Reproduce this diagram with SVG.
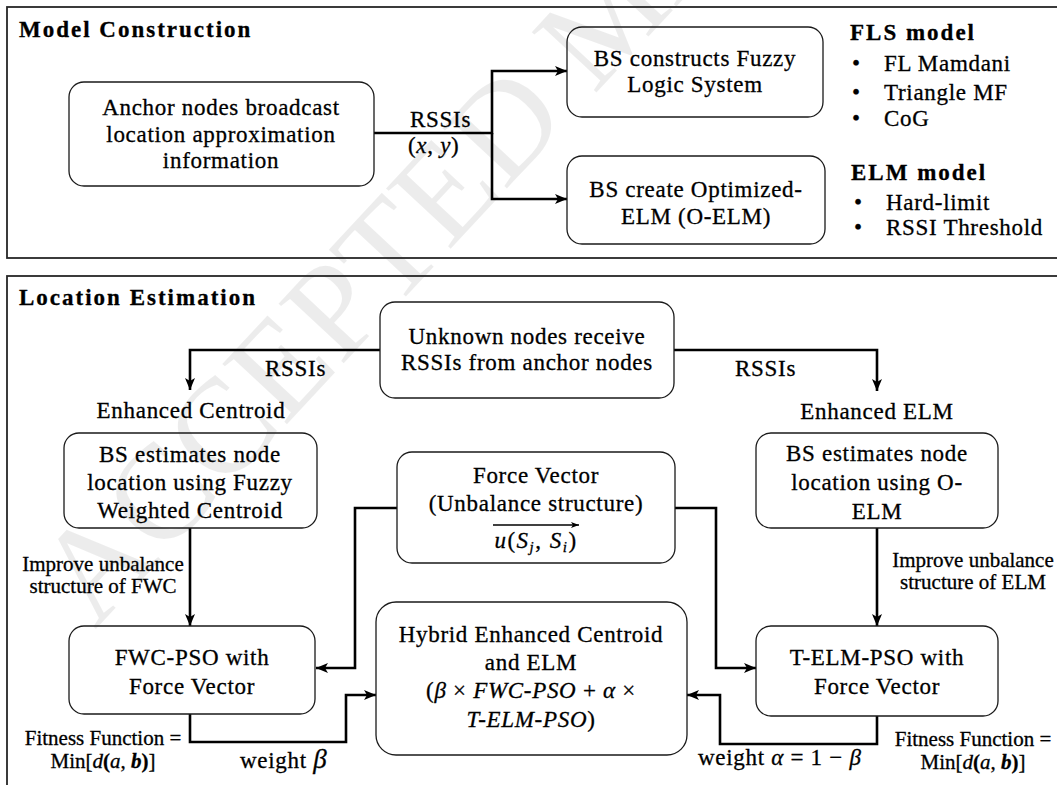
<svg xmlns="http://www.w3.org/2000/svg" width="1057" height="785" viewBox="0 0 1057 785">
<style>
.bg{fill:#fff}
.panel{fill:none;stroke:#262626;stroke-width:1.8}
.box{fill:none;stroke:#1a1a1a;stroke-width:1.3}
.c{fill:none;stroke:#000;stroke-width:2.6}
.t{font-family:"Liberation Serif","Times New Roman",serif;font-size:23px;letter-spacing:0.7px;fill:#000;stroke:#000;stroke-width:0.3px;text-anchor:middle}
.l{text-anchor:start}
.h{font-weight:bold;letter-spacing:2px}
.s{font-size:21px;letter-spacing:0}
.i{font-style:italic}
.wm{font-family:"Liberation Serif","Times New Roman",serif;font-size:135px;fill:#000;fill-opacity:0.075}
</style>
<defs>
<marker id="ah" viewBox="0 0 12 10" refX="12" refY="5" markerWidth="12" markerHeight="10" markerUnits="userSpaceOnUse" orient="auto">
<path d="M0,0 L12,5 L0,10 L3,5 z" fill="#000"/>
</marker>
<marker id="ahs" viewBox="0 0 8 6" refX="8" refY="3" markerWidth="8" markerHeight="6" markerUnits="userSpaceOnUse" orient="auto">
<path d="M0,0 L8,3 L0,6 L2,3 z" fill="#000"/>
</marker>
</defs>
<rect class="bg" x="0" y="0" width="1057" height="785"/>
<g id="watermark">
<text class="wm" transform="translate(95,630) rotate(-47)">ACCEPTED MANUSCRIPT</text>
</g>
<g id="panels">
<rect class="panel" x="7" y="7" width="1070" height="251"/>
<text class="t l h" x="19" y="37">Model Construction</text>
<rect class="panel" x="7" y="276" width="1070" height="530"/>
<text class="t l h" x="19" y="305">Location Estimation</text>
</g>
<g id="connectors">
<path class="c" d="M374,133 H492 V71 H567" marker-end="url(#ah)"/>
<path class="c" d="M492,133 V199 H567" marker-end="url(#ah)"/>
<path class="c" d="M380,350 H190 V390" marker-end="url(#ah)"/>
<path class="c" d="M674,350 H877 V391" marker-end="url(#ah)"/>
<path class="c" d="M190,528 V626" marker-end="url(#ah)"/>
<path class="c" d="M877,528 V626" marker-end="url(#ah)"/>
<path class="c" d="M397,508 H355 V668 H316" marker-end="url(#ah)"/>
<path class="c" d="M675,508 H716 V668 H756" marker-end="url(#ah)"/>
<path class="c" d="M190,714 V742 H346 V695 H376" marker-end="url(#ah)"/>
<path class="c" d="M877,716 V744 H720 V695 H687" marker-end="url(#ah)"/>
<text class="t l" x="410" y="127">RSSIs</text>
<text class="t l" x="408" y="153">(<tspan class="i">x</tspan>, <tspan class="i">y</tspan>)</text>
<text class="t l" x="265" y="376">RSSIs</text>
<text class="t l" x="735" y="376">RSSIs</text>
<text class="t s" x="103" y="571">Improve unbalance</text>
<text class="t s" x="103" y="593">structure of FWC</text>
<text class="t s" x="973" y="567">Improve unbalance</text>
<text class="t s" x="973" y="589">structure of ELM</text>
<text class="t s" x="103" y="745">Fitness Function =</text>
<text class="t s" x="103" y="768">Min[<tspan class="i">d</tspan><tspan font-weight="bold">(</tspan><tspan class="i">a</tspan>, <tspan class="i" font-weight="bold">b</tspan><tspan font-weight="bold">)</tspan>]</text>
<text class="t l" x="240" y="768">weight <tspan class="i" font-size="27px">β</tspan></text>
<text class="t s" x="973" y="746">Fitness Function =</text>
<text class="t s" x="973" y="769">Min[<tspan class="i">d</tspan><tspan font-weight="bold">(</tspan><tspan class="i">a</tspan>, <tspan class="i" font-weight="bold">b</tspan><tspan font-weight="bold">)</tspan>]</text>
<text class="t l" x="698" y="765">weight <tspan class="i">α</tspan> = 1 − <tspan class="i">β</tspan></text>
</g>
<g id="anchor">
<rect class="box" x="69" y="82" width="305" height="104" rx="15"/>
<text class="t" x="221" y="115">Anchor nodes broadcast</text>
<text class="t" x="221" y="142">location approximation</text>
<text class="t" x="221" y="168">information</text>
</g>
<g id="fls">
<rect class="box" x="567" y="27" width="256" height="90" rx="15"/>
<text class="t" x="695" y="66">BS constructs Fuzzy</text>
<text class="t" x="695" y="92">Logic System</text>
</g>
<g id="oelm">
<rect class="box" x="567" y="156" width="258" height="88" rx="15"/>
<text class="t" x="696" y="197">BS create Optimized-</text>
<text class="t" x="696" y="224">ELM (O-ELM)</text>
</g>
<g id="fls-model">
<text class="t l h" x="850" y="40">FLS model</text>
<text class="t l" x="852" y="71">•</text>
<text class="t l" x="884" y="71">FL Mamdani</text>
<text class="t l" x="852" y="100">•</text>
<text class="t l" x="884" y="100">Triangle MF</text>
<text class="t l" x="852" y="126">•</text>
<text class="t l" x="884" y="126">CoG</text>
</g>
<g id="elm-model">
<text class="t l h" x="851" y="180">ELM model</text>
<text class="t l" x="854" y="210">•</text>
<text class="t l" x="886" y="210">Hard-limit</text>
<text class="t l" x="854" y="235">•</text>
<text class="t l" x="886" y="235">RSSI Threshold</text>
</g>
<g id="unknown">
<rect class="box" x="380" y="302" width="294" height="96" rx="15"/>
<text class="t" x="527" y="344">Unknown nodes receive</text>
<text class="t" x="527" y="370">RSSIs from anchor nodes</text>
</g>
<g id="enh-centroid">
<text class="t" x="191" y="418">Enhanced Centroid</text>
<rect class="box" x="64" y="433" width="253" height="95" rx="15"/>
<text class="t" x="190" y="462">BS estimates node</text>
<text class="t" x="190" y="490">location using Fuzzy</text>
<text class="t" x="190" y="518">Weighted Centroid</text>
</g>
<g id="enh-elm">
<text class="t" x="877" y="419">Enhanced ELM</text>
<rect class="box" x="756" y="433" width="242" height="95" rx="15"/>
<text class="t" x="877" y="461">BS estimates node</text>
<text class="t" x="877" y="490">location using O-</text>
<text class="t" x="877" y="519">ELM</text>
</g>
<g id="force">
<rect class="box" x="397" y="452" width="278" height="111" rx="15"/>
<text class="t" x="536" y="483">Force Vector</text>
<text class="t" x="536" y="511">(Unbalance structure)</text>
<path d="M493,525 H579" stroke="#000" stroke-width="1.6" fill="none" marker-end="url(#ahs)"/>
<text class="t" x="536" y="548" style="letter-spacing:1.5px"><tspan class="i">u</tspan>(<tspan class="i">S</tspan><tspan class="i" font-size="15px" dy="4">j</tspan><tspan dy="-4">, </tspan><tspan class="i">S</tspan><tspan class="i" font-size="15px" dy="4">i</tspan><tspan dy="-4">)</tspan></text>
</g>
<g id="fwc-pso">
<rect class="box" x="69" y="626" width="246" height="88" rx="15"/>
<text class="t" x="192" y="665">FWC-PSO with</text>
<text class="t" x="192" y="694">Force Vector</text>
</g>
<g id="telm-pso">
<rect class="box" x="756" y="626" width="242" height="90" rx="15"/>
<text class="t" x="877" y="665">T-ELM-PSO with</text>
<text class="t" x="877" y="694">Force Vector</text>
</g>
<g id="hybrid">
<rect class="box" x="376" y="602" width="311" height="153" rx="20"/>
<text class="t" x="531" y="642">Hybrid Enhanced Centroid</text>
<text class="t" x="531" y="670">and ELM</text>
<text class="t" x="531" y="698">(<tspan class="i">β</tspan> × <tspan class="i">FWC-PSO</tspan> + <tspan class="i">α</tspan> ×</text>
<text class="t" x="531" y="727"><tspan class="i">T-ELM-PSO</tspan>)</text>
</g>
</svg>
